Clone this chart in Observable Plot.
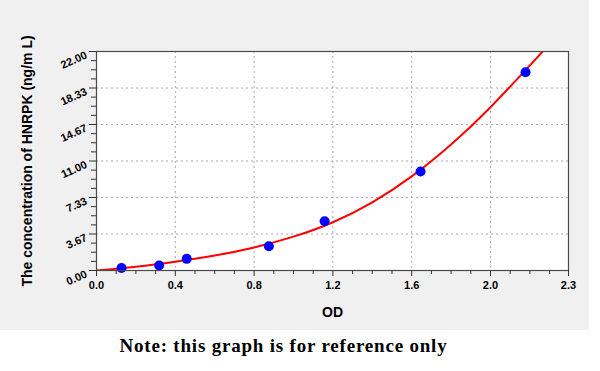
<!DOCTYPE html>
<html>
<head>
<meta charset="utf-8">
<script src="https://cdn.jsdelivr.net/npm/d3@7"></script>
<script src="https://cdn.jsdelivr.net/npm/@observablehq/plot@0.6"></script>
<style>
  html, body { margin: 0; padding: 0; background: #ffffff; }
  #wrap { width: 600px; height: 371px; position: relative; background: #ffffff; }
  #chart { width: 589px; height: 330px; background: #f0f0f0; overflow: hidden; }
  #note { position: absolute; left: 0; width: 567px; top: 335px; line-height: 22px; text-align: center;
          font-family: "Liberation Serif", "DejaVu Serif", serif; font-weight: bold; font-size: 19px;
          letter-spacing: 0.8px; color: #000; }
</style>
</head>
<body>
<div id="wrap">
  <div id="chart"></div>
  <div id="note">Note: this graph is for reference only</div>
</div>
<script>
// Standards (measured points)
const stdOD = [0.127, 0.318, 0.458, 0.875, 1.158, 1.645, 2.178];
const stdConc = [0.25, 0.50, 1.17, 2.43, 4.95, 9.94, 19.92];

// Fitted curve
const curveOD = [0, 0.2, 0.4, 0.6, 0.8, 1.0, 1.2, 1.4, 1.6, 1.8, 2.0, 2.2, 2.265];
const curveConc = [0, 0.38, 0.88, 1.5, 2.32, 3.4, 4.85, 6.85, 9.45, 12.65, 16.4, 20.6, 22.0];

// Axis ticks
const xTickValues = [0, 0.4, 0.8, 1.2, 1.6, 2.0, 2.396];
const xTickLabels = ["0.0", "0.4", "0.8", "1.2", "1.6", "2.0", "2.3"];
const xGridValues = [0.4, 0.8, 1.2, 1.6, 2.0];
const yTickValues = [0, 3.667, 7.333, 11, 14.667, 18.333, 22];
const yTickLabels = ["0.00", "3.67", "7.33", "11.00", "14.67", "18.33", "22.00"];

const xMinor = d3.range(1, 24).map(i => i / 10).filter(v => Math.abs(v / 0.4 - Math.round(v / 0.4)) > 1e-6);
const yMinor = d3.range(1, 24).map(i => i * 22 / 24).filter((v, i) => (i + 1) % 4 !== 0);

const points = stdOD.map((x, i) => ({x, y: stdConc[i]}));
const curve = curveOD.map((x, i) => ({x, y: curveConc[i]}));

const xLabel = v => xTickLabels[xTickValues.indexOf(v)];
const yLabel = v => yTickLabels[yTickValues.indexOf(v)];

const fontFam = "'Liberation Sans', Arial, sans-serif";

const plot = Plot.plot({
  width: 589,
  height: 330,
  marginLeft: 96,
  marginRight: 21,
  marginTop: 51,
  marginBottom: 60,
  style: { background: "transparent", fontFamily: fontFam, color: "#000", overflow: "visible" },
  x: { domain: [0, 2.396] },
  y: { domain: [0, 22] },
  marks: [
    Plot.frame({ fill: "white", stroke: null }),
    Plot.gridX(xGridValues, { stroke: "#a8a8a8", strokeOpacity: 1, strokeDasharray: "2,3" }),
    Plot.gridY(yTickValues.slice(1, -1), { stroke: "#a8a8a8", strokeOpacity: 1, strokeDasharray: "2,3" }),
    Plot.line(curve, { x: "x", y: "y", stroke: "#ff0000", strokeWidth: 2, curve: "natural", clip: true }),
    Plot.dot(points, { x: "x", y: "y", r: 5, fill: "#0000ff", stroke: null }),
    Plot.frame({ stroke: "#4a4a4a", strokeWidth: 1.2 }),
    // X axis: minor + major ticks, labels
    Plot.axisX(xMinor, { tickSize: 4, text: null, stroke: "#333", label: null }),
    Plot.axisX(xTickValues, { tickSize: 6, text: null, stroke: "#333", label: null }),
    Plot.axisX(xTickValues, { tickSize: 0, tickPadding: 11, tickFormat: xLabel, fontSize: 11, fontWeight: "bold", label: null }),
    // Y axis
    Plot.axisY(yMinor, { tickSize: 5, text: null, stroke: "#333", label: null }),
    Plot.axisY(yTickValues, { tickSize: 7, text: null, stroke: "#333", label: null }),
    Plot.axisY(yTickValues, { tickSize: 0, tickPadding: 10, tickFormat: yLabel, fontSize: 11, fontWeight: "bold", rotate: -24, textAnchor: "end", label: null, dy: 3 }),
    // Axis titles
    Plot.text(["OD"], { frameAnchor: "bottom", dy: 42, text: d => d, fontSize: 14, fontWeight: "bold", lineAnchor: "middle" }),
    Plot.text(["The concentration of HNRPK (ng/m L)"], { frameAnchor: "left", dx: -69, dy: 0, rotate: -90, text: d => d, fontSize: 14, fontWeight: "bold", lineAnchor: "middle", textAnchor: "middle" })
  ]
});
document.getElementById("chart").appendChild(plot);
</script>
</body>
</html>
